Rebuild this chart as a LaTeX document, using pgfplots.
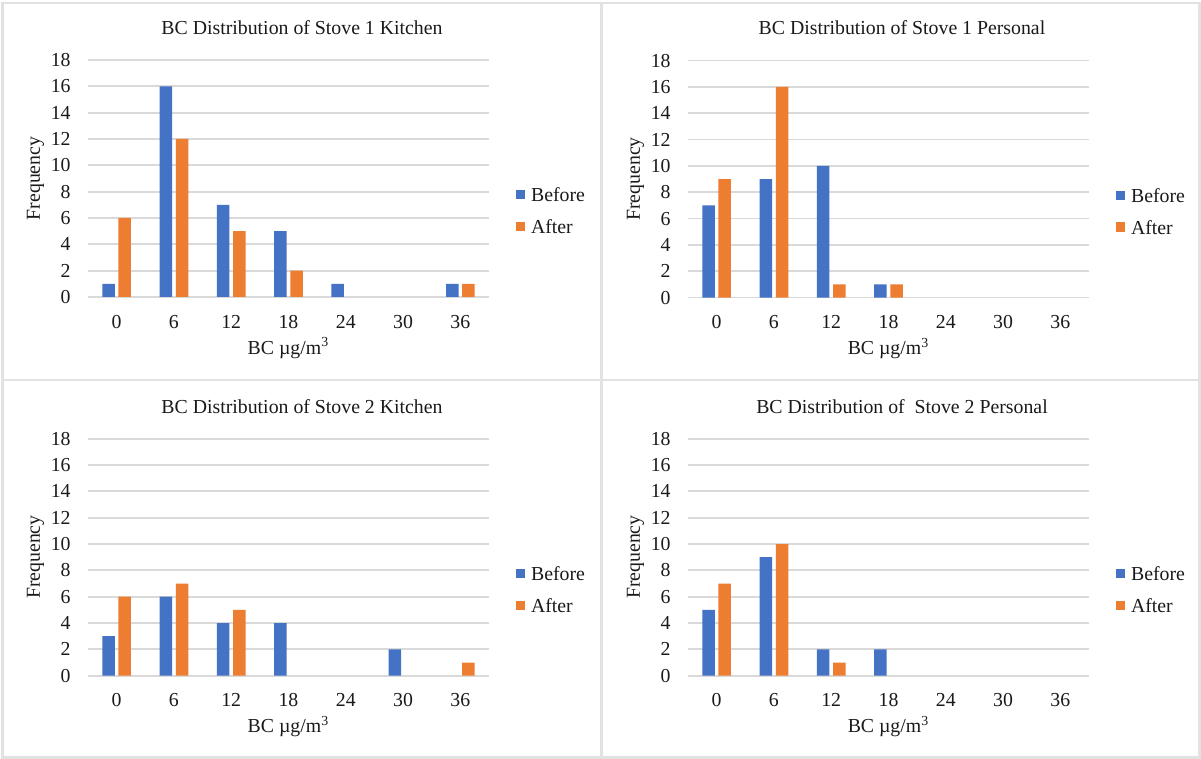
\documentclass[border=0pt]{standalone}
\usepackage{fontspec}
\setmainfont{Liberation Serif}
\usepackage{pgfplots}
\pgfplotsset{compat=1.18}
\definecolor{cbefore}{HTML}{4472C4}
\definecolor{cafter}{HTML}{ED7D31}
\definecolor{gridc}{HTML}{D9D9D9}
\definecolor{framec}{HTML}{E2E2E2}
\definecolor{txtc}{HTML}{1A1A1A}
\pgfplotsset{
  panel/.style={
    width=200.5pt, height=118.5pt, scale only axis,
    font=\fontsize{9.9}{11.8}\selectfont,
    ybar,
    xmin=-0.5, xmax=6.5, ymin=0, ymax=18,
    xtick={0,...,6}, xticklabels={0,6,12,18,24,30,36},
    ytick={0,2,...,18},
    /pgf/number format/assume math mode=true,
    ymajorgrids, grid style={draw=gridc, line width=0.9pt},
    axis line style={draw=none},
    major tick length=0pt,
    tick style={draw=none},
    yticklabel style={anchor=east, inner sep=0pt, xshift=-8.5pt},
    xticklabel style={anchor=center, inner sep=0pt, yshift=-12.3pt},
    every axis title shift=0pt,
    title style={at={(axis description cs:0.5337,1.137)}, anchor=center, inner sep=0pt},
    xlabel={BC µg/m\textsuperscript{3}},
    xlabel style={at={(axis description cs:0.5,-0.215)}, anchor=center, inner sep=0pt},
    ylabel={Frequency},
    ylabel style={at={(axis description cs:-0.131,0.5)}, anchor=center, inner sep=0pt},
    legend style={draw=none, fill=none, at={(axis description cs:1.067,0.365)}, anchor=west,
      inner sep=0pt, outer sep=0pt, row sep=9.0pt, column sep=3pt,
      nodes={inner sep=0pt, text depth=0pt}},
    legend cell align=left,
    legend image code/.code={\fill[##1] (0pt,-2.3pt) rectangle (4.6pt,2.3pt);},
    unbounded coords=discard,
    y filter/.expression={y==0 ? nan : y},
  },
  bef/.style={fill=cbefore, draw=none, bar width=6.25pt, bar shift=-4.05pt},
  aft/.style={fill=cafter, draw=none, bar width=6.25pt, bar shift=4.05pt},
}
\begin{document}
\color{txtc}
\begin{tikzpicture}
\path[fill=white] (0,0) rectangle (600.5pt,379.5pt);
\draw[framec, line width=1.2pt] (1.25pt,378pt) rectangle (599.75pt,0.75pt);
\draw[framec, line width=1.2pt] (300.75pt,0.75pt) -- (300.75pt,378pt);
\draw[framec, line width=1.2pt] (1.25pt,189.5pt) -- (599.75pt,189.5pt);

\begin{axis}[panel, at={(44pt,231pt)}, anchor=south west,
  title={BC Distribution of Stove 1 Kitchen}]
\addplot[bef] coordinates {(0,1) (1,16) (2,7) (3,5) (4,1) (5,0) (6,1)};
\addplot[aft] coordinates {(0,6) (1,12) (2,5) (3,2) (4,0) (5,0) (6,1)};
\legend{Before,After}
\end{axis}

\begin{axis}[panel, at={(344pt,230.7pt)}, anchor=south west,
  title={BC Distribution of Stove 1 Personal}]
\addplot[bef] coordinates {(0,7) (1,9) (2,10) (3,1) (4,0) (5,0) (6,0)};
\addplot[aft] coordinates {(0,9) (1,16) (2,1) (3,1) (4,0) (5,0) (6,0)};
\legend{Before,After}
\end{axis}

\begin{axis}[panel, at={(44pt,41.65pt)}, anchor=south west,
  title={BC Distribution of Stove 2 Kitchen}]
\addplot[bef] coordinates {(0,3) (1,6) (2,4) (3,4) (4,0) (5,2) (6,0)};
\addplot[aft] coordinates {(0,6) (1,7) (2,5) (3,0) (4,0) (5,0) (6,1)};
\legend{Before,After}
\end{axis}

\begin{axis}[panel, at={(344pt,41.65pt)}, anchor=south west,
  title={BC Distribution of \ Stove 2 Personal}]
\addplot[bef] coordinates {(0,5) (1,9) (2,2) (3,2) (4,0) (5,0) (6,0)};
\addplot[aft] coordinates {(0,7) (1,10) (2,1) (3,0) (4,0) (5,0) (6,0)};
\legend{Before,After}
\end{axis}
\end{tikzpicture}
\end{document}
